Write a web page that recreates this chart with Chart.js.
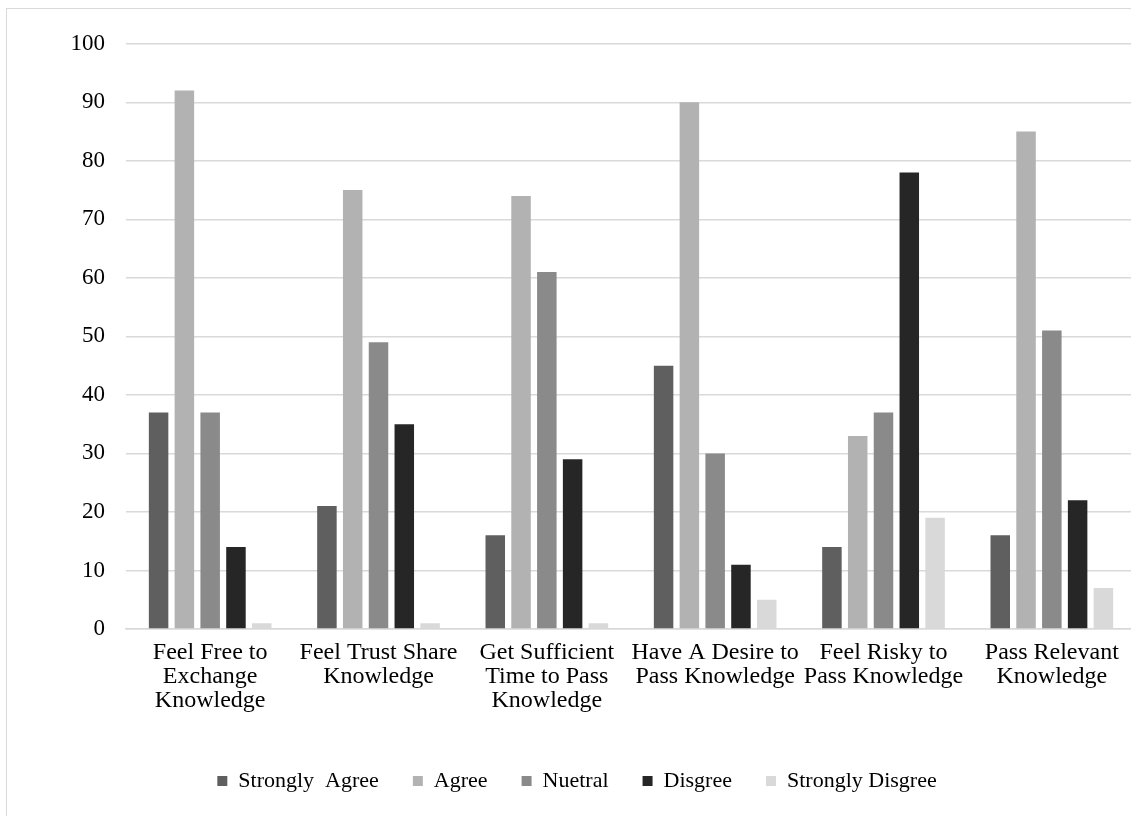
<!DOCTYPE html>
<html>
<head>
<meta charset="utf-8">
<script src="https://cdn.jsdelivr.net/npm/chart.js@4/dist/chart.umd.min.js"></script>
<style>
  html, body { margin: 0; padding: 0; background: #fff; overflow: hidden; }
  #frame { position: absolute; left: 6px; top: 8px; width: 1160px; height: 840px; border: 1.5px solid #d9d9d9; box-sizing: border-box; }
  #wrap { position: absolute; left: 7px; top: 9px; width: 1140px; height: 820px; }
</style>
</head>
<body>
<div id="frame"></div>
<div id="wrap"><canvas id="chart"></canvas></div>
<script>
// categories and series
const categories = [
  ['Feel Free to', 'Exchange', 'Knowledge'],
  ['Feel Trust Share', 'Knowledge'],
  ['Get Sufficient', 'Time to Pass', 'Knowledge'],
  ['Have A Desire to', 'Pass Knowledge'],
  ['Feel Risky to', 'Pass Knowledge'],
  ['Pass Relevant', 'Knowledge']
];
const seriesNames = ['Strongly  Agree', 'Agree', 'Nuetral', 'Disgree', 'Strongly Disgree'];
const stronglyAgree = [37, 21, 16, 45, 14, 16];
const agree = [92, 75, 74, 90, 33, 85];
const nuetral = [37, 49, 61, 30, 37, 51];
const disgree = [14, 35, 29, 11, 78, 22];
const stronglyDisgree = [1, 1, 1, 5, 19, 7];
const yTicks = [0, 10, 20, 30, 40, 50, 60, 70, 80, 90, 100];

const colors = ['#5f5f5f', '#b2b2b2', '#8a8a8a', '#262626', '#d9d9d9'];
const allValues = [stronglyAgree, agree, nuetral, disgree, stronglyDisgree];

const serif = '"Liberation Serif", "Times New Roman", serif';

const datasets = seriesNames.map((name, i) => ({
  label: name,
  data: allValues[i],
  backgroundColor: colors[i],
  borderWidth: 0,
  categoryPercentage: 0.766,
  barPercentage: 0.756
}));

new Chart(document.getElementById('chart'), {
  type: 'bar',
  data: { labels: categories, datasets: datasets },
  options: {
    responsive: true,
    maintainAspectRatio: false,
    animation: false,
    layout: { padding: { top: 33, left: 11, right: 11, bottom: 27 } },
    plugins: {
      tooltip: { enabled: false },
      legend: {
        position: 'bottom',
        labels: {
          boxWidth: 10,
          boxHeight: 10,
          padding: 34,
          color: '#000',
          font: { family: serif, size: 22 }
        }
      }
    },
    scales: {
      x: {
        grid: { display: false, drawTicks: false },
        border: { display: true, color: '#d9d9d9', width: 1.5 },
        ticks: {
          color: '#000',
          padding: 12,
          maxRotation: 0,
          autoSkip: false,
          font: { family: serif, size: 24, lineHeight: 1.0 }
        },
        afterFit: (s) => { s.height = 107; }
      },
      y: {
        min: 0,
        max: 100,
        afterBuildTicks: (s) => { s.ticks = yTicks.map(v => ({ value: v })); },
        grid: { color: '#d9d9d9', lineWidth: 1.5, drawTicks: false },
        border: { display: false },
        ticks: {
          color: '#000',
          padding: 21,
          font: { family: serif, size: 23 }
        },
        afterFit: (s) => { s.width = 108; }
      }
    }
  }
});
</script>
</body>
</html>
